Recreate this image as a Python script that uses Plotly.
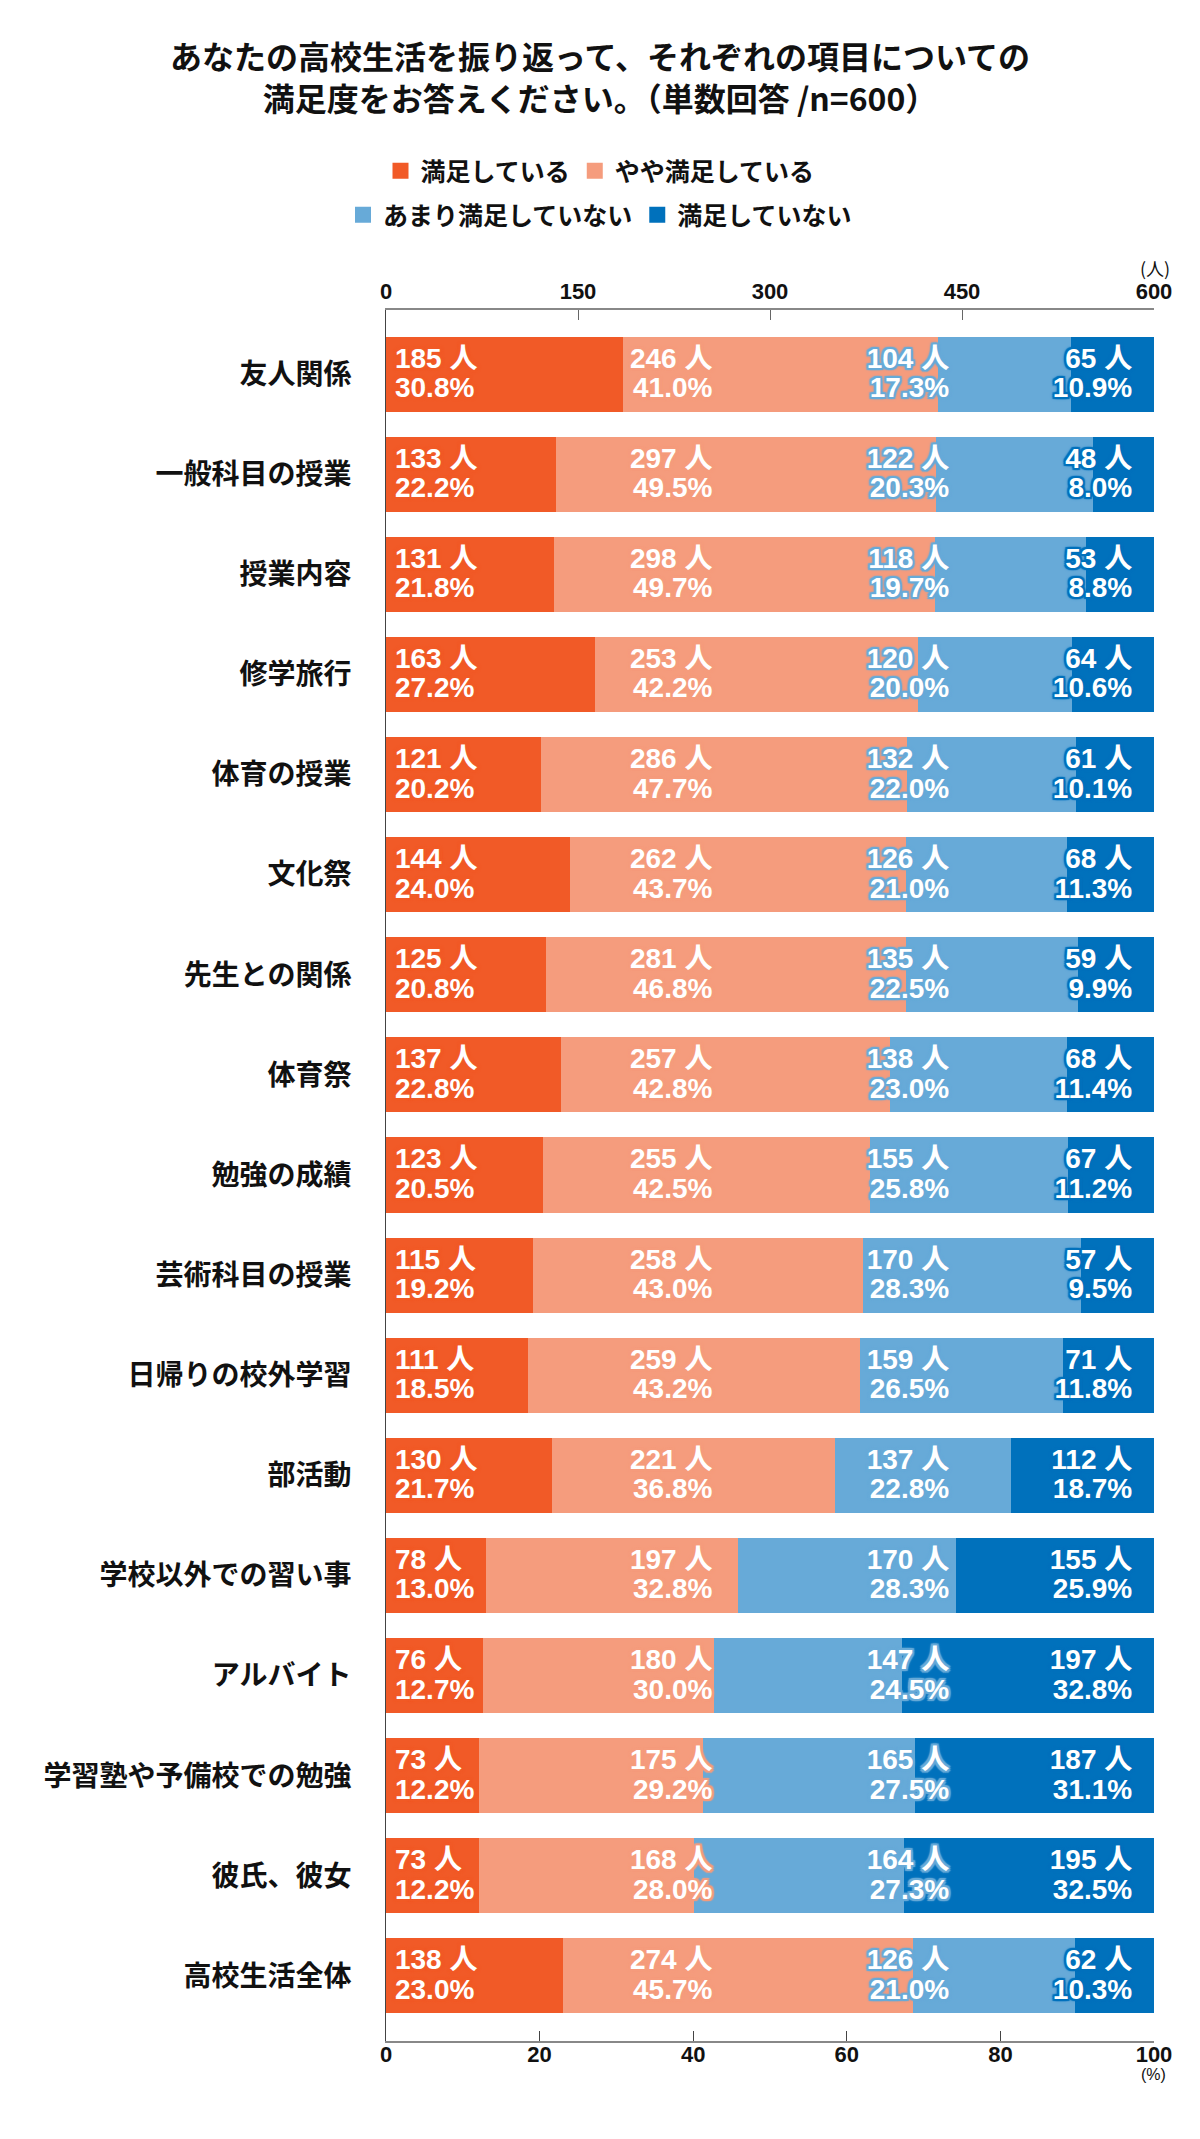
import plotly.graph_objects as go

categories = ["友人関係", "一般科目の授業", "授業内容", "修学旅行", "体育の授業", "文化祭",
              "先生との関係", "体育祭", "勉強の成績", "芸術科目の授業", "日帰りの校外学習",
              "部活動", "学校以外での習い事", "アルバイト", "学習塾や予備校での勉強",
              "彼氏、彼女", "高校生活全体"]

series_names = ["満足している", "やや満足している", "あまり満足していない", "満足していない"]

n_satisfied = [185, 133, 131, 163, 121, 144, 125, 137, 123, 115, 111, 130, 78, 76, 73, 73, 138]
n_somewhat = [246, 297, 298, 253, 286, 262, 281, 257, 255, 258, 259, 221, 197, 180, 175, 168, 274]
n_not_much = [104, 122, 118, 120, 132, 126, 135, 138, 155, 170, 159, 137, 170, 147, 165, 164, 126]
n_not = [65, 48, 53, 64, 61, 68, 59, 68, 67, 57, 71, 112, 155, 197, 187, 195, 62]

p_satisfied = [30.8, 22.2, 21.8, 27.2, 20.2, 24.0, 20.8, 22.8, 20.5, 19.2, 18.5, 21.7, 13.0, 12.7, 12.2, 12.2, 23.0]
p_somewhat = [41.0, 49.5, 49.7, 42.2, 47.7, 43.7, 46.8, 42.8, 42.5, 43.0, 43.2, 36.8, 32.8, 30.0, 29.2, 28.0, 45.7]
p_not_much = [17.3, 20.3, 19.7, 20.0, 22.0, 21.0, 22.5, 23.0, 25.8, 28.3, 26.5, 22.8, 28.3, 24.5, 27.5, 27.3, 21.0]
p_not = [10.9, 8.0, 8.8, 10.6, 10.1, 11.3, 9.9, 11.4, 11.2, 9.5, 11.8, 18.7, 25.9, 32.8, 31.1, 32.5, 10.3]

top_ticks = [0, 150, 300, 450, 600]
bottom_ticks = [0, 20, 40, 60, 80, 100]

colors = ["#F15A27", "#F59C7D", "#67AAD8", "#0071BC"]

W, H = 1200, 2139
OFF = 8  # page body margin
PL, PR, PT, PB = 386, 1154, 310, 2041  # plot area on page
L, R, T, B = PL - OFF, W + OFF - PR, PT - OFF, H + OFF - PB
idx = list(range(len(categories)))

counts = [n_satisfied, n_somewhat, n_not_much, n_not]
pcts = [p_satisfied, p_somewhat, p_not_much, p_not]

fig = go.Figure()

for name, vals, col in zip(series_names, counts, colors):
    fig.add_trace(go.Bar(
        x=vals, y=idx, orientation="h", name=name, width=0.75,
        marker=dict(color=col, line=dict(width=0)),
        showlegend=False, hoverinfo="skip", xaxis="x", yaxis="y"))

# label columns (in persons axis units) and anchoring
col_pos = [7, 255, 440, 583]
col_anchor = ["middle right", "middle left", "middle left", "middle left"]


def halo(c, r=2):
    offs = []
    for dx in (-r, 0, r):
        for dy in (-r, 0, r):
            if dx or dy:
                offs.append(f"{dx}px {dy}px 1px {c}")
    offs.append(f"0px 0px 4px {c}")
    return ", ".join(offs)


label_font = "Liberation Sans, Arial, Noto Sans CJK JP, sans-serif"
for k in range(4):
    t1 = [f"{n} 人" for n in counts[k]]
    t2 = [f"{p:.1f}%" for p in pcts[k]]
    for texts, dy in ((t1, -0.135), (t2, 0.16)):
        fig.add_trace(go.Scatter(
            x=[col_pos[k]] * len(idx), y=[i + dy for i in idx], mode="text", text=texts,
            textposition=col_anchor[k],
            textfont=dict(family=label_font, size=28, color="white", weight="bold",
                          shadow=halo(colors[k])),
            showlegend=False, hoverinfo="skip", xaxis="x", yaxis="y"))

# legend entries
for k, (name, col) in enumerate(zip(series_names, colors)):
    fig.add_trace(go.Scatter(
        x=[None], y=[None], mode="markers", name=name,
        marker=dict(symbol="square", size=16, color=col),
        legend="legend" if k < 2 else "legend2", hoverinfo="skip"))

# invisible trace for bottom percentage axis
fig.add_trace(go.Scatter(x=[0, 100], y=[0, 0], mode="markers", marker=dict(opacity=0),
                         showlegend=False, hoverinfo="skip", xaxis="x2", yaxis="y"))

tick_font = dict(family="Liberation Sans, Arial, sans-serif",
                 size=22, color="#111", weight="bold")

cx = (600 - OFF) / W
leg_font = dict(family="Noto Sans CJK JP", size=25, color="#111", weight="bold")

fig.update_layout(
    width=W, height=H,
    margin=dict(l=L, r=R, t=T, b=B),
    paper_bgcolor="white", plot_bgcolor="white",
    barmode="stack",
    title=dict(
        text="あなたの高校生活を振り返って、それぞれの項目についての<br>満足度をお答えください。（単数回答 /n=600）",
        x=cx, xref="container", xanchor="center",
        y=1 - 61 / H, yref="container", yanchor="middle",
        font=dict(family="Noto Sans CJK JP", size=32, color="#111", weight="bold")),
    xaxis=dict(side="top", range=[0, 600], tickvals=top_ticks, ticks="inside", ticklen=10,
               tickcolor="#666", tickwidth=1, showline=True, linecolor="#888", linewidth=2,
               showgrid=False, zeroline=False, tickfont=tick_font, fixedrange=True),
    xaxis2=dict(side="bottom", overlaying="x", anchor="y", range=[0, 100], tickvals=bottom_ticks,
                ticks="inside", ticklen=10, tickcolor="#444", tickwidth=1, showline=True,
                linecolor="#888", linewidth=2, showgrid=False, zeroline=False, tickfont=tick_font,
                ticklabelstandoff=-7),
    yaxis=dict(range=[16.65, -0.64], tickmode="array", tickvals=idx, ticktext=categories,
               showline=True, linecolor="#444", linewidth=1, ticks="", showgrid=False,
               zeroline=False, ticklabelstandoff=28,
               tickfont=dict(family="Noto Sans CJK JP", size=28, color="#111", weight="bold")),
    legend=dict(orientation="h", x=cx, xref="container", xanchor="center",
                y=1 - 163 / H, yref="container", yanchor="middle", traceorder="normal",
                font=leg_font, itemwidth=30, itemsizing="trace", bgcolor="rgba(0,0,0,0)"),
    legend2=dict(orientation="h", x=cx, xref="container", xanchor="center",
                 y=1 - 207 / H, yref="container", yanchor="middle", traceorder="normal",
                 font=leg_font, itemwidth=30, itemsizing="trace", bgcolor="rgba(0,0,0,0)"),
    annotations=[
        dict(text="(人)", x=(1155 - PL) / (PR - PL), y=(PB - 268) / (PB - PT),
             xref="paper", yref="paper", showarrow=False, xanchor="center", yanchor="middle",
             font=dict(family="Noto Sans CJK JP", size=18, color="#111")),
        dict(text="(%)", x=(1153 - PL) / (PR - PL), y=(PB - 2074) / (PB - PT),
             xref="paper", yref="paper", showarrow=False, xanchor="center", yanchor="middle",
             font=dict(family="Liberation Sans, sans-serif", size=16, color="#111")),
    ],
)

fig.write_html("out.html")
